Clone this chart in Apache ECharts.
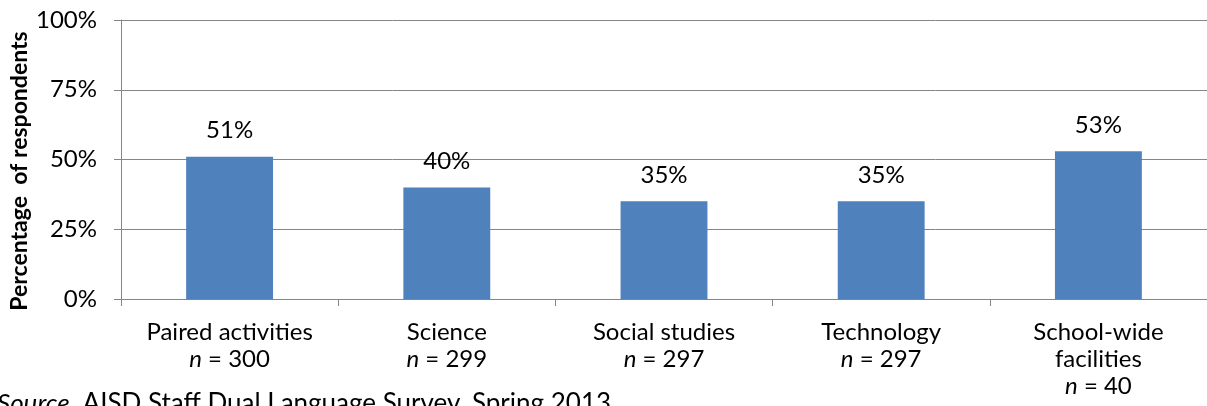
<!DOCTYPE html>
<html>
<head>
<meta charset="utf-8">
<script src="https://cdn.jsdelivr.net/npm/echarts@6/dist/echarts.min.js"></script>
<style>
html,body{margin:0;padding:0;background:#fff;}
#chart{width:1207px;height:406px;}
</style>
</head>
<body>
<div id="chart"></div>
<script>
const categories = ['Paired activities', 'Science', 'Social studies', 'Technology', 'School-wide\nfacilities'];
const sampleSizes = [300, 299, 297, 297, 40];
const percentages = [51, 40, 35, 35, 53];
const yTicks = [0, 25, 50, 75, 100];

const FONT = 'Lato';
const chart = echarts.init(document.getElementById('chart'), null, {renderer: 'canvas'});

chart.setOption({
  animation: false,
  backgroundColor: '#ffffff',
  textStyle: {fontFamily: FONT},
  grid: {left: 121, top: 20, width: 1090, height: 279, containLabel: false},
  xAxis: {
    type: 'category',
    data: categories,
    axisLine: {show: true, lineStyle: {color: '#868686', width: 1}},
    axisTick: {show: true, length: 7, alignWithLabel: false, lineStyle: {color: '#868686'}},
    axisLabel: {
      interval: 0,
      margin: 20,
      color: '#000',
      fontFamily: FONT,
      fontSize: 24,
      lineHeight: 27,
      formatter: function (value, idx) {
        const parts = value.split('\n').map(s => '{t|' + s + '}');
        return parts.join('\n') + '\n{i|n}{t| = ' + sampleSizes[idx] + '}';
      },
      rich: {
        t: {fontFamily: FONT, fontSize: 24, color: '#000', lineHeight: 27},
        i: {fontFamily: FONT, fontSize: 24, color: '#000', fontStyle: 'italic', lineHeight: 27}
      }
    },
    splitLine: {show: false}
  },
  yAxis: {
    type: 'value',
    min: yTicks[0],
    max: yTicks[yTicks.length - 1],
    interval: 25,
    axisLine: {show: true, lineStyle: {color: '#868686', width: 1}},
    axisTick: {show: true, length: 7, lineStyle: {color: '#868686'}},
    axisLabel: {
      margin: 24,
      color: '#000',
      fontFamily: FONT,
      fontSize: 24,
      formatter: '{value}%'
    },
    splitLine: {show: true, lineStyle: {color: '#868686', width: 1}}
  },
  series: [{
    type: 'bar',
    data: percentages,
    barWidth: '40%',
    itemStyle: {color: '#4F81BD'},
    label: {
      show: true,
      position: 'top',
      distance: 14,
      color: '#000',
      fontFamily: FONT,
      fontSize: 24,
      formatter: '{c}%'
    }
  }],
  graphic: [
    {
      type: 'text',
      x: 20,
      y: 171,
      rotation: Math.PI / 2,
      style: {
        text: 'Percentage  of respondents',
        fontFamily: FONT,
        fontWeight: 'bold',
        fontSize: 23,
        fill: '#000',
        textAlign: 'center',
        textVerticalAlign: 'middle'
      }
    },
    {
      type: 'text',
      left: -3,
      top: 391,
      style: {
        text: '{s|Source}{n|. AISD Staff Dual Language Survey, Spring 2013}',
        rich: {
          s: {fontFamily: FONT, fontSize: 26, fontStyle: 'italic', fill: '#000'},
          n: {fontFamily: FONT, fontSize: 26, fill: '#000'}
        }
      }
    }
  ]
});
</script>
</body>
</html>
